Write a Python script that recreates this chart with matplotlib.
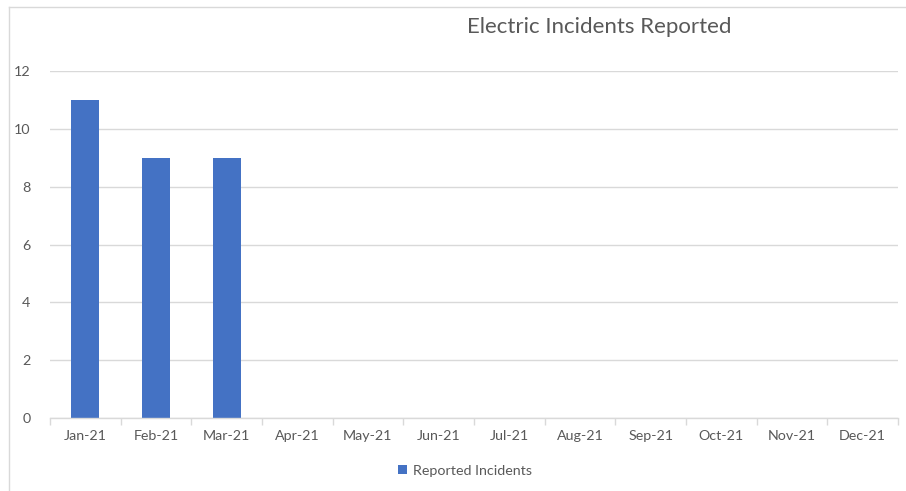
import matplotlib
matplotlib.use("Agg")
import matplotlib.pyplot as plt
from matplotlib.lines import Line2D
from matplotlib.patches import Patch
import numpy as np

months = ["Jan-21", "Feb-21", "Mar-21", "Apr-21", "May-21", "Jun-21",
          "Jul-21", "Aug-21", "Sep-21", "Oct-21", "Nov-21", "Dec-21"]
incidents = [11, 9, 9, 0, 0, 0, 0, 0, 0, 0, 0, 0]
yticks = [0, 2, 4, 6, 8, 10, 12]
title = "Electric Incidents Reported"
series_name = "Reported Incidents"

plt.rcParams['font.family'] = ['Lato', 'DejaVu Sans']
W, H = 906, 491
fig = plt.figure(figsize=(W / 100, H / 100), dpi=100)
ax = fig.add_axes([50 / W, 73 / H, 848 / W, 347 / H])

bar_color = "#4472C4"
text_color = "#595959"
grid_color = "#D9D9D9"

x = np.arange(len(months))
ax.bar(x, incidents, width=0.4, color=bar_color, linewidth=0, zorder=3)

ax.set_xlim(-0.5, len(months) - 0.5)
ax.set_ylim(0, 12)
ax.set_yticks(yticks)
ax.set_yticklabels([str(v) for v in yticks])
ax.set_xticks(x)
ax.set_xticklabels(months)
ax.set_xticks(np.arange(-0.5, len(months)), minor=True)

ax.tick_params(axis='x', which='major', length=0, pad=9, labelsize=10.3, labelcolor=text_color)
ax.tick_params(axis='x', which='minor', length=5, width=1, color=grid_color, direction='out')
ax.tick_params(axis='y', length=0, pad=14, labelsize=10.3, labelcolor=text_color)

ax.grid(axis='y', color=grid_color, linewidth=1, zorder=0)
for s in ['top', 'right', 'left']:
    ax.spines[s].set_visible(False)
ax.spines['bottom'].set_color(grid_color)
ax.spines['bottom'].set_linewidth(1)
ax.spines['bottom'].set_zorder(4)

fig.text(599 / W, 1 - 27 / H, title, ha='center', va='center', fontsize=16, color=text_color)

handles = [Patch(facecolor=bar_color, edgecolor='none', label=series_name)]
fig.legend(handles=handles, loc='center', bbox_to_anchor=(465 / W, 1 - 471 / H),
           frameon=False, fontsize=10.3, labelcolor=text_color,
           handlelength=0.6, handleheight=0.6, handletextpad=0.4)

# chart frame
fig.add_artist(Line2D([9 / W, 9 / W], [0, 1 - 7 / H], transform=fig.transFigure, color=grid_color, linewidth=1))
fig.add_artist(Line2D([9 / W, 1], [1 - 7 / H, 1 - 7 / H], transform=fig.transFigure, color=grid_color, linewidth=1))

fig.savefig("out.png", dpi=100, facecolor="white")
